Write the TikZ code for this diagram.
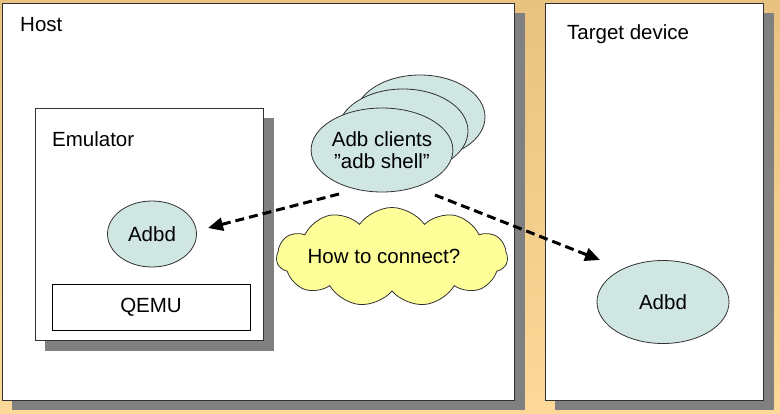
\documentclass[tikz,border=0pt]{standalone}
\usepackage{fontspec}
\setmainfont{Liberation Sans}
\usetikzlibrary{shapes.geometric,shapes.symbols,arrows.meta,calc}
\definecolor{bgtop}{RGB}{231,194,128}
\definecolor{bgbot}{RGB}{252,217,152}
\definecolor{shadowgray}{RGB}{128,128,128}
\definecolor{tealfill}{RGB}{208,230,227}
\definecolor{cloudfill}{RGB}{255,255,153}
\definecolor{edge}{RGB}{50,50,50}
\begin{document}
\begin{tikzpicture}[x=1pt,y=-1pt,
  panel/.style={rectangle,draw=edge,line width=1pt,fill=white,inner sep=0pt},
  shadowbox/.style={fill=shadowgray},
  blob/.style={ellipse,draw=edge,line width=0.8pt,fill=tealfill,inner sep=0pt,align=center,font=\fontsize{20.5}{23}\selectfont},
  lbl/.style={font=\fontsize{20.5}{24}\selectfont,inner sep=0pt},
  dasharrow/.style={line width=3pt,dash pattern=on 9pt off 5pt,-{Triangle[length=15pt,width=13pt]}}]
\useasboundingbox (0,0) rectangle (780,413);
\shade[top color=bgtop,bottom color=bgbot] (0,0) rectangle (780,413);
% shadows
\fill[shadowbox] (12,13) rectangle (525,410);
\fill[shadowbox] (555,13) rectangle (774,410);
% panels
\node[panel,minimum width=512pt,minimum height=397pt] (host) at (258,201.5) {};
\node[panel,minimum width=218pt,minimum height=397pt] (target) at (654,201.5) {};
\node[lbl,anchor=west] (hostlbl) at (20,25) {Host};
\node[lbl,anchor=west] (targetlbl) at (567,34) {Target device};
% emulator
\fill[shadowbox] (45,118) rectangle (274,351);
\node[panel,minimum width=228pt,minimum height=232pt] (emu) at (149,224) {};
\node[lbl,anchor=west] (emulbl) at (52,139) {Emulator};
\node[panel,lbl,draw=black,minimum width=198pt,minimum height=46pt] (qemu) at (151,307) {QEMU};
\node[blob,minimum width=89pt,minimum height=66pt] (adbd1) at (152,234) {Adbd};
% clients
\node[blob,minimum width=130pt,minimum height=84pt] (back) at (420,117) {};
\node[blob,minimum width=130pt,minimum height=84pt] (middle) at (403,131) {};
\node[blob,minimum width=134pt,minimum height=84pt] (clients) at (382,150) {Adb clients\\[-1pt]”adb shell”};
% target adbd
\node[blob,minimum width=132pt,minimum height=83pt] (adbd2) at (663,302) {Adbd};
% cloud
\node[cloud,cloud puffs=11,cloud puff arc=110,aspect=2.3,draw=edge,line width=0.8pt,fill=cloudfill,
  minimum width=231pt,minimum height=99pt,inner sep=0pt] (cloud) at (392,257) {};
\node[lbl] (cloudtext) at (384,256) {How to connect?};
% connectors
\draw[dasharrow] ($(clients.center)+(-43,44)$) -- ($(adbd1.center)+(56,-6)$);
\draw[dasharrow] ($(clients.center)+(53,45)$) -- ($(adbd2.center)+(-63,-42)$);
\end{tikzpicture}
\end{document}
